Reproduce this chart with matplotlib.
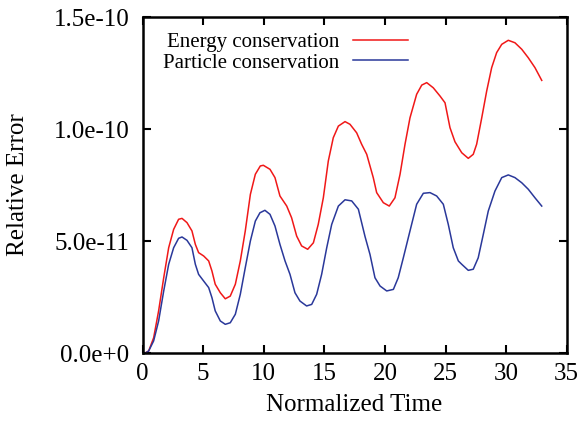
import matplotlib
matplotlib.use("Agg")
import matplotlib.pyplot as plt
import numpy as np

# Data (y in units of 1e-12)
energy_x = [0, 0.25, 0.51, 0.92, 1.33, 1.75, 2.16, 2.57, 2.98, 3.26, 3.67, 4.08, 4.36, 4.63,
            5.05, 5.46, 5.73, 6.0, 6.42, 6.83, 7.24, 7.66, 8.07, 8.48, 8.9, 9.31, 9.72, 9.97,
            10.52, 10.93, 11.34, 11.9, 12.3, 12.72, 13.13, 13.63, 14.1, 14.5, 14.92, 15.33,
            15.74, 16.16, 16.71, 17.12, 17.67, 18.08, 18.5, 19.04, 19.32, 19.87, 20.36, 20.83,
            21.25, 21.66, 22.07, 22.62, 23.04, 23.45, 23.99, 24.55, 24.96, 25.37, 25.78, 26.34,
            26.88, 27.29, 27.57, 27.99, 28.4, 28.81, 29.22, 29.64, 30.18, 30.73, 31.29, 31.83,
            32.38, 32.94]
energy_y = [0, 0.1, 0.9, 6.8, 18.8, 33.6, 47, 55.2, 59.7, 60.1, 58.2, 54.5, 48.5, 44.8,
            43.3, 41.1, 36.6, 30.7, 26.9, 24.2, 25.4, 30.7, 41.1, 54.5, 70.8, 79.8, 83.5, 83.8,
            82, 78.3, 70.1, 65.6, 60.4, 52.2, 47.8, 46.3, 49.2, 57.4, 69.3, 85.7,
            96.1, 101.3, 103.3, 102.1, 98.3, 93.2, 88.7, 78.3, 71.6, 67.1, 65.6, 69.3,
            79.8, 93.2, 105, 115.5, 119.6, 120.7, 118.4, 114.7, 111.7, 100.6, 94.3, 89.4,
            86.9, 88.7, 93.2, 105, 117, 127.4, 134.1, 137.8, 139.6, 138.5, 135.6, 131.8,
            127.4, 121.7]

particle_x = [0, 0.25, 0.51, 0.92, 1.33, 1.75, 2.16, 2.57, 2.98, 3.26, 3.67, 4.08, 4.36, 4.63,
              5.05, 5.46, 5.73, 6.0, 6.42, 6.83, 7.24, 7.66, 8.07, 8.48, 8.9, 9.31, 9.69, 10.1,
              10.52, 10.93, 11.34, 11.76, 12.17, 12.58, 12.99, 13.54, 13.96, 14.37, 14.78, 15.2,
              15.61, 16.16, 16.71, 17.26, 17.81, 18.36, 18.77, 19.18, 19.6, 20.15, 20.7, 21.1,
              21.52, 22.07, 22.62, 23.17, 23.72, 24.27, 24.82, 25.23, 25.64, 26.06, 26.34, 26.88,
              27.29, 27.7, 28.12, 28.53, 29.08, 29.64, 30.18, 30.73, 31.29, 31.83, 32.38, 32.94]
particle_y = [0, 0, 0.9, 5.4, 14.3, 27.7, 39.6, 47, 51.2, 51.8, 50.3, 47, 39.6, 35.1,
              32.1, 29.2, 24.7, 18.8, 14.3, 12.8, 13.5, 17.3, 26.2, 38.1, 50, 58.9, 62.6, 63.7,
              61.9, 56.7, 48.5, 41.1, 35.1, 26.9, 23.2, 21, 21.7, 26.2, 35.1, 47,
              57.4, 65.6, 68.4, 67.9, 64.2, 52, 44, 33.6, 29.9, 27.7, 28.4, 33.6,
              42.5, 54.5, 66.4, 71.3, 71.6, 70.1, 66.4, 57.4, 47, 41.1, 39.6, 36.9,
              37.4, 42.5, 53, 63.4, 72.3, 78.3, 79.5, 78.3, 76, 73.1, 69.3, 65.6]

series_labels = ["Energy conservation", "Particle conservation"]
x_ticks = [0, 5, 10, 15, 20, 25, 30, 35]
y_ticks = [0.0, 5.0e-11, 1.0e-10, 1.5e-10]
y_tick_labels = ["0.0e+0", "5.0e-11", "1.0e-10", "1.5e-10"]

plt.rcParams['font.family'] = ['Liberation Serif', 'DejaVu Serif']

fig = plt.figure(figsize=(5.81, 4.21), dpi=100)
ax = fig.add_axes([142.5/581, 1-353/421, (566.7-142.5)/581, (353-17)/421])

scale = 1e-12
ax.plot(energy_x, np.array(energy_y)*scale, color='#f01818', lw=1.1, label=series_labels[0])
ax.plot(particle_x, np.array(particle_y)*scale, color='#2a389a', lw=1.1, label=series_labels[1])

ax.set_xlim(0, 35)
ax.set_ylim(0, 1.5e-10)
ax.set_xticks(x_ticks)
ax.set_xticklabels([str(t) for t in x_ticks])
ax.set_yticks(y_ticks)
ax.set_yticklabels(y_tick_labels)
ax.tick_params(direction='in', length=6, width=1.5, top=True, right=True, labelsize=18, colors='black')
ax.tick_params(axis='x', pad=7)
ax.tick_params(axis='y', pad=9.5)
for s in ax.spines.values():
    s.set_linewidth(1.8)

ax.set_xlabel("Normalized Time", fontsize=18)
ax.set_ylabel("Relative Error", fontsize=18)
ax.xaxis.set_label_coords(0.5, -0.122)
ax.yaxis.set_label_coords(-0.268, 0.5)

leg = ax.legend(loc='upper left', bbox_to_anchor=(0.018, 0.991), frameon=False, markerfirst=False,
                fontsize=15, handlelength=2.6, handletextpad=0.7, labelspacing=0.05,
                borderaxespad=0.2)

fig.savefig("out.png", dpi=100)
